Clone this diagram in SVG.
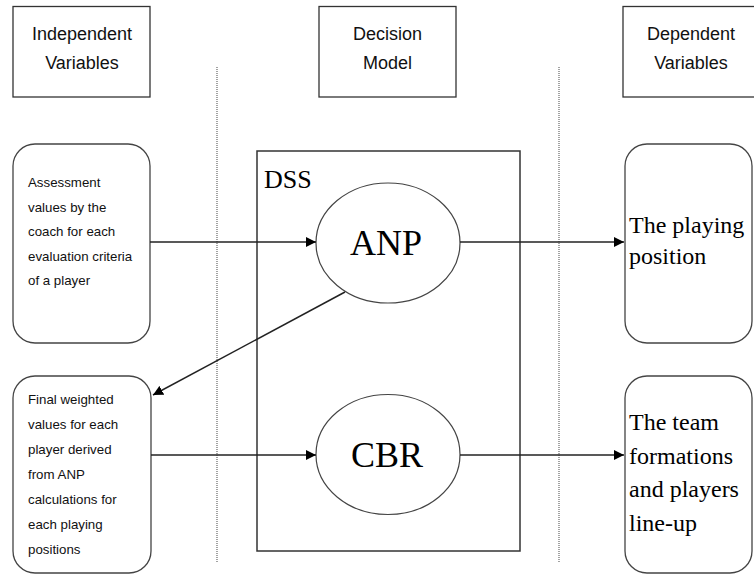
<svg xmlns="http://www.w3.org/2000/svg" width="754" height="575" viewBox="0 0 754 575">
<style>
  .hdr { fill: #fff; stroke: #333; stroke-width: 1.3; }
  .rbox { fill: #fff; stroke: #444; stroke-width: 1.3; }
  .ell { fill: #fff; stroke: #444; stroke-width: 1.2; }
  .sans { font-family: "Liberation Sans", Arial, sans-serif; fill: #111; }
  .serif { font-family: "Liberation Serif", "Times New Roman", serif; fill: #000; }
  .hdrtxt { font-size: 18px; text-anchor: middle; }
  .small { font-size: 13.3px; }
  .big { font-size: 24px; }
  .conn { stroke: #222; stroke-width: 1.5; fill: none; }
  .dot { stroke: #666; stroke-width: 1.2; stroke-dasharray: 1 1; }
</style>
<defs>
  <marker id="arr" markerUnits="userSpaceOnUse" markerWidth="12" markerHeight="10" refX="10" refY="5" orient="auto">
    <path d="M0,0 L10,5 L0,10 Z" fill="#000"/>
  </marker>
</defs>

<g id="dividers">
  <line class="dot" x1="217" y1="67" x2="217" y2="563"/>
  <line class="dot" x1="559" y1="67" x2="559" y2="563"/>
</g>

<g id="hdr-independent">
  <rect class="hdr" x="13" y="6.5" width="137" height="90.5"/>
  <text class="sans hdrtxt" x="82" y="40">Independent</text>
  <text class="sans hdrtxt" x="82" y="69">Variables</text>
</g>
<g id="hdr-decision">
  <rect class="hdr" x="319" y="6.5" width="137" height="90.5"/>
  <text class="sans hdrtxt" x="387.5" y="40">Decision</text>
  <text class="sans hdrtxt" x="387.5" y="69">Model</text>
</g>
<g id="hdr-dependent">
  <rect class="hdr" x="623" y="6.5" width="137" height="90.5"/>
  <text class="sans hdrtxt" x="691" y="40">Dependent</text>
  <text class="sans hdrtxt" x="691" y="69">Variables</text>
</g>

<g id="in-assessment">
  <rect class="rbox" x="13" y="144" width="137" height="199" rx="22" ry="22"/>
  <text class="sans small">
    <tspan x="28" y="187">Assessment</tspan>
    <tspan x="28" y="211.5">values by the</tspan>
    <tspan x="28" y="236">coach for each</tspan>
    <tspan x="28" y="260.5">evaluation criteria</tspan>
    <tspan x="28" y="285">of a player</tspan>
  </text>
</g>

<g id="in-final">
  <rect class="rbox" x="13" y="376" width="138" height="197" rx="22" ry="22"/>
  <text class="sans small">
    <tspan x="28" y="404">Final weighted</tspan>
    <tspan x="28" y="429">values for each</tspan>
    <tspan x="28" y="454">player derived</tspan>
    <tspan x="28" y="479">from ANP</tspan>
    <tspan x="28" y="504">calculations for</tspan>
    <tspan x="28" y="529">each playing</tspan>
    <tspan x="28" y="554">positions</tspan>
  </text>
</g>

<g id="dss">
  <rect x="257" y="151" width="263" height="400" fill="none" stroke="#333" stroke-width="1.5"/>
  <text class="serif" x="264" y="188" font-size="26">DSS</text>
</g>

<g id="anp">
  <ellipse class="ell" cx="388" cy="243" rx="72" ry="60"/>
  <text class="serif" x="386" y="255" font-size="36" text-anchor="middle">ANP</text>
</g>

<g id="cbr">
  <ellipse class="ell" cx="388" cy="454.5" rx="72" ry="60"/>
  <text class="serif" x="387" y="467" font-size="36" text-anchor="middle">CBR</text>
</g>

<g id="out-position">
  <rect class="rbox" x="625" y="144" width="127" height="199" rx="22" ry="22"/>
  <text class="serif big">
    <tspan x="629" y="233">The playing</tspan>
    <tspan x="629" y="264">position</tspan>
  </text>
</g>

<g id="out-team">
  <rect class="rbox" x="625" y="376" width="127" height="197" rx="22" ry="22"/>
  <text class="serif big">
    <tspan x="629" y="430">The team</tspan>
    <tspan x="629" y="464">formations</tspan>
    <tspan x="629" y="497">and players</tspan>
    <tspan x="629" y="531">line-up</tspan>
  </text>
</g>

<g id="connectors">
  <line class="conn" x1="150" y1="242" x2="316" y2="242" marker-end="url(#arr)"/>
  <line class="conn" x1="460" y1="242" x2="624" y2="242" marker-end="url(#arr)"/>
  <line class="conn" x1="345" y1="292" x2="153" y2="395" marker-end="url(#arr)"/>
  <line class="conn" x1="151" y1="455" x2="316" y2="455" marker-end="url(#arr)"/>
  <line class="conn" x1="460" y1="455" x2="624" y2="455" marker-end="url(#arr)"/>
</g>
</svg>
